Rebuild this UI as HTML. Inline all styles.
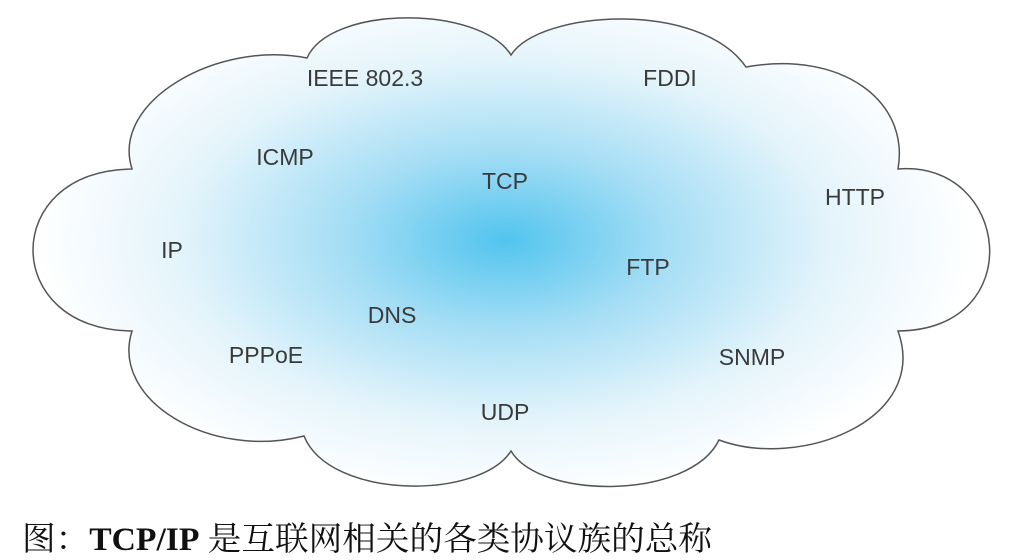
<!DOCTYPE html>
<html><head><meta charset="utf-8"><style>
html,body{margin:0;padding:0;background:#fff;}
svg{display:block;}
.l{font-family:"Liberation Sans Narrow","Liberation Sans",sans-serif;font-size:23px;fill:#3a3a3a;text-anchor:middle;}
</style></head><body>
<svg width="1023" height="560" viewBox="0 0 1023 560" xmlns="http://www.w3.org/2000/svg">
<defs>
<radialGradient id="g" cx="505" cy="240" r="470" gradientUnits="userSpaceOnUse" gradientTransform="translate(505 240) scale(1 0.55) translate(-505 -240)">
<stop offset="0" stop-color="#52c4ee"/>
<stop offset="0.35" stop-color="#a6def5"/>
<stop offset="0.7" stop-color="#e4f4fb"/>
<stop offset="1" stop-color="#ffffff"/>
</radialGradient>
</defs>
<path d="M511,55 C540,10 700,0 746,67 C840,50 910,100 898,169 C1010,160 1030,330 898,331 C930,420 800,470 719,440 C690,500 540,500 511,451 C480,500 330,500 304,436 C210,460 110,400 132,331 C0,330 0,170 132,169 C110,100 220,40 307,58 C330,5 480,5 511,55 Z" fill="url(#g)" stroke="#555" stroke-width="1.5"/>
<text class="l" x="365" y="86">IEEE 802.3</text>
<text class="l" x="670" y="86">FDDI</text>
<text class="l" x="285" y="165">ICMP</text>
<text class="l" x="505" y="189">TCP</text>
<text class="l" x="855" y="205">HTTP</text>
<text class="l" x="172" y="258">IP</text>
<text class="l" x="648" y="275">FTP</text>
<text class="l" x="392" y="323">DNS</text>
<text class="l" x="266" y="363">PPPoE</text>
<text class="l" x="752" y="365">SNMP</text>
<text class="l" x="505" y="420">UDP</text>
<text x="22" y="550" font-size="33" fill="#111" textLength="690" lengthAdjust="spacingAndGlyphs" font-family="'Liberation Serif','Noto Serif CJK SC',serif">图：<tspan font-weight="bold">TCP/IP</tspan> 是互联网相关的各类协议族的总称</text>
</svg>
</body></html>
